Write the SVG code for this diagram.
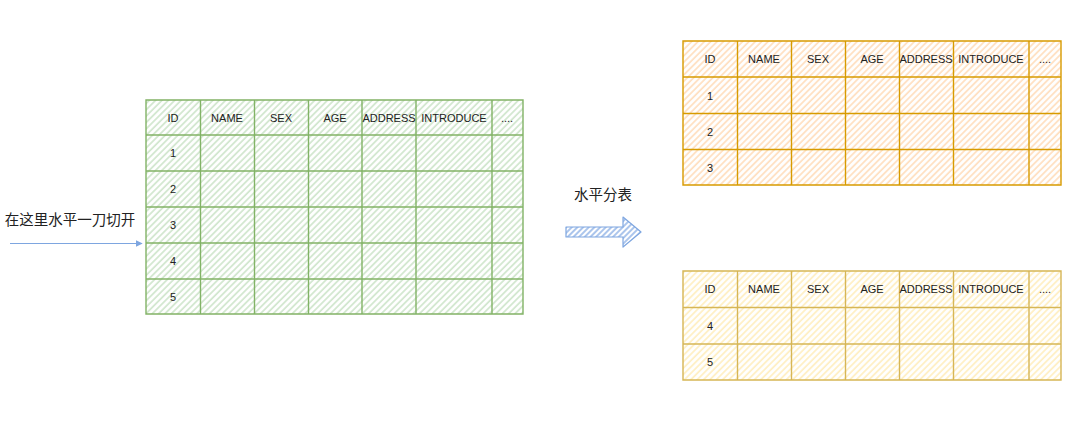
<svg xmlns="http://www.w3.org/2000/svg" width="1080" height="428" viewBox="0 0 1080 428">
<defs>
<pattern id="hg" width="4.5" height="4.5" patternUnits="userSpaceOnUse" patternTransform="rotate(45)"><rect width="4.5" height="4.5" fill="#ffffff"/><line x1="1" y1="0" x2="1" y2="4.5" stroke="#d0e6cd" stroke-width="1.7"/></pattern>
<pattern id="ho" width="4.5" height="4.5" patternUnits="userSpaceOnUse" patternTransform="rotate(45)"><rect width="4.5" height="4.5" fill="#ffffff"/><line x1="1" y1="0" x2="1" y2="4.5" stroke="#ffdfbf" stroke-width="1.7"/></pattern>
<pattern id="hy" width="4.5" height="4.5" patternUnits="userSpaceOnUse" patternTransform="rotate(45)"><rect width="4.5" height="4.5" fill="#ffffff"/><line x1="1" y1="0" x2="1" y2="4.5" stroke="#ffefc2" stroke-width="1.7"/></pattern>
<pattern id="hb" width="4" height="4" patternUnits="userSpaceOnUse" patternTransform="rotate(45)"><rect width="4" height="4" fill="#ffffff"/><line x1="1" y1="0" x2="1" y2="4" stroke="#8fb2e6" stroke-width="1.5"/></pattern>
<marker id="ah" viewBox="0 0 10 10" refX="9" refY="5" markerWidth="7" markerHeight="7" markerUnits="userSpaceOnUse" orient="auto"><path d="M0,0 L10,5 L0,10 Z" fill="#7ea6e0"/></marker>
</defs>
<style>
.t{font-family:"Liberation Sans",Arial,sans-serif;font-size:11px;fill:#222222;text-anchor:middle;dominant-baseline:central}
.c{font-family:"Liberation Sans","Noto Sans CJK SC",sans-serif;font-size:14.5px;fill:#222222;text-anchor:middle;dominant-baseline:central}
.g{stroke:#82b366;stroke-width:1.4;fill:none}
.o{stroke:#d79b00;stroke-width:1.4;fill:none}
.y{stroke:#d6b656;stroke-width:1.4;fill:none}
</style>
<rect width="1080" height="428" fill="#ffffff"/>

<g id="table-full">
<rect x="146" y="100" width="377" height="214" fill="url(#hg)"/>
<path class="g" d="M146,100H523V314H146Z M200.5,100V314 M254.5,100V314 M308.5,100V314 M362,100V314 M416,100V314 M492,100V314 M146,135H523 M146,171H523 M146,207H523 M146,243H523 M146,279H523"/>
<text class="t" x="173" y="117.5">ID</text>
<text class="t" x="227" y="117.5">NAME</text>
<text class="t" x="281" y="117.5">SEX</text>
<text class="t" x="335" y="117.5">AGE</text>
<text class="t" x="389" y="117.5">ADDRESS</text>
<text class="t" x="454" y="117.5">INTRODUCE</text>
<text class="t" x="507" y="117.5">....</text>
<text class="t" x="173" y="153">1</text>
<text class="t" x="173" y="189">2</text>
<text class="t" x="173" y="225">3</text>
<text class="t" x="173" y="261">4</text>
<text class="t" x="173" y="297">5</text>
</g>

<g id="label-cut">
<text class="c" x="70" y="220">在这里水平一刀切开</text>
</g>

<g id="split-arrow">
<text class="c" x="603" y="195">水平分表</text>
<polygon points="566,227 623,227 623,217 641,232 623,247 623,237 566,237" fill="url(#hb)" stroke="#7ea6e0" stroke-width="1.2" stroke-linejoin="round"/>
</g>

<g id="table-top">
<rect x="683" y="41" width="378" height="144" fill="url(#ho)"/>
<path class="o" d="M683,41H1061V185H683Z M737.5,41V185 M791.5,41V185 M845.5,41V185 M899.5,41V185 M953.5,41V185 M1029,41V185 M683,77H1061 M683,113.5H1061 M683,149.5H1061"/>
<text class="t" x="710" y="59">ID</text>
<text class="t" x="764" y="59">NAME</text>
<text class="t" x="818" y="59">SEX</text>
<text class="t" x="872" y="59">AGE</text>
<text class="t" x="926" y="59">ADDRESS</text>
<text class="t" x="991" y="59">INTRODUCE</text>
<text class="t" x="1045" y="59">....</text>
<text class="t" x="710" y="95.5">1</text>
<text class="t" x="710" y="131.5">2</text>
<text class="t" x="710" y="167.5">3</text>
</g>

<g id="table-bottom">
<rect x="683" y="271" width="378" height="109" fill="url(#hy)"/>
<path class="y" d="M683,271H1061V380H683Z M737.5,271V380 M791.5,271V380 M845.5,271V380 M899.5,271V380 M953.5,271V380 M1029,271V380 M683,307.5H1061 M683,344H1061"/>
<text class="t" x="710" y="289">ID</text>
<text class="t" x="764" y="289">NAME</text>
<text class="t" x="818" y="289">SEX</text>
<text class="t" x="872" y="289">AGE</text>
<text class="t" x="926" y="289">ADDRESS</text>
<text class="t" x="991" y="289">INTRODUCE</text>
<text class="t" x="1045" y="289">....</text>
<text class="t" x="710" y="326">4</text>
<text class="t" x="710" y="362">5</text>
</g>

<g id="connectors">
<line x1="10" y1="243.5" x2="142" y2="243.5" stroke="#7ea6e0" stroke-width="1.2" marker-end="url(#ah)"/>
</g>
</svg>
